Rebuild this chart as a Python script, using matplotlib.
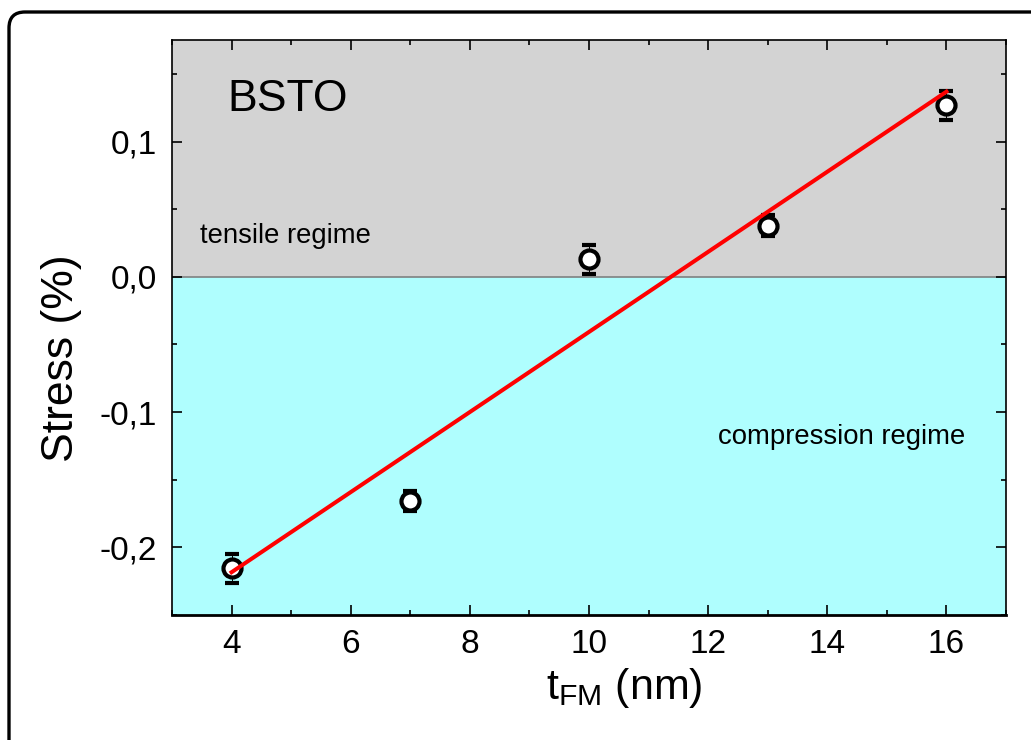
import numpy as np
import matplotlib
matplotlib.use('Agg')
import matplotlib.pyplot as plt
from matplotlib.patches import FancyBboxPatch
from matplotlib.transforms import IdentityTransform
from matplotlib.ticker import MultipleLocator, FuncFormatter

plt.rcParams['font.family'] = ['Liberation Sans', 'DejaVu Sans']

# Data
thickness = [4, 7, 10, 13, 16]
stress = [-0.2156, -0.1657, 0.0130, 0.0378, 0.1267]
stress_err = [0.0107, 0.0075, 0.0107, 0.0080, 0.0105]

# Linear fit through the points
slope, intercept = np.polyfit(thickness, stress, 1)
fit_x = np.array([thickness[0], thickness[-1]])
fit_y = slope * fit_x + intercept

fig = plt.figure(figsize=(10.31, 7.40), dpi=100)
ax = fig.add_axes([0.1668, 0.1689, 0.809, 0.777])

ax.set_xlim(3, 17)
ax.set_ylim(-0.25, 0.175)

# Background regimes
ax.axhspan(0, 0.175, color='#d3d3d3', zorder=0)
ax.axhspan(-0.25, 0, color='#affefe', zorder=0)
ax.axhline(0, color='#808080', lw=1.2, zorder=1)

# Data points with error bars
ax.errorbar(thickness, stress, yerr=stress_err, fmt='o', color='black',
            ms=13, mfc='white', mec='black', mew=3,
            ecolor='black', elinewidth=0.7, capsize=5, capthick=0.7, zorder=3)

# Fit line
ax.plot(fit_x, fit_y, color='red', lw=2.9, zorder=4)

# Texts
ax.text(0.067, 0.896, 'BSTO', transform=ax.transAxes, fontsize=32,
        ha='left', va='center')
ax.text(285, 740 - 236, 'tensile regime', transform=None, fontsize=19.8,
        ha='center', va='center')
ax.text(842, 740 - 437, 'compression regime', transform=None, fontsize=19.8,
        ha='center', va='center')

# Axes styling
ax.xaxis.set_major_locator(MultipleLocator(2))
ax.xaxis.set_minor_locator(MultipleLocator(1))
ax.yaxis.set_major_locator(MultipleLocator(0.1))
ax.yaxis.set_minor_locator(MultipleLocator(0.05))
ax.yaxis.set_major_formatter(FuncFormatter(lambda v, p: ('%.1f' % v).replace('.', ',').replace('-0,0', '0,0')))

ax.tick_params(which='both', direction='in', top=True, right=True, labelsize=24)
ax.tick_params(axis='x', pad=10)
ax.tick_params(axis='y', pad=11)
ax.tick_params(which='major', length=7, width=1.2)
ax.tick_params(which='minor', length=3.8, width=1.2)
for side in ['left', 'right', 'top']:
    ax.spines[side].set_linewidth(1.2)
ax.spines['bottom'].set_linewidth(2)

ax.set_xlabel(r'$\mathregular{t_{FM}}$ (nm)', fontsize=31)
ax.set_ylabel('Stress (%)', fontsize=32)
ax.xaxis.set_label_coords(0.542, -0.088)
ax.yaxis.set_label_coords(-0.108, 0.447)

# Rounded frame around the figure (cut off at right and bottom)
frame = FancyBboxPatch((9, -30), 1080, 740 - 12 + 30,
                       boxstyle='round,pad=0,rounding_size=16',
                       transform=IdentityTransform(), fill=False,
                       edgecolor='black', lw=2.4)
fig.add_artist(frame)

fig.savefig('out.png', dpi=100)
